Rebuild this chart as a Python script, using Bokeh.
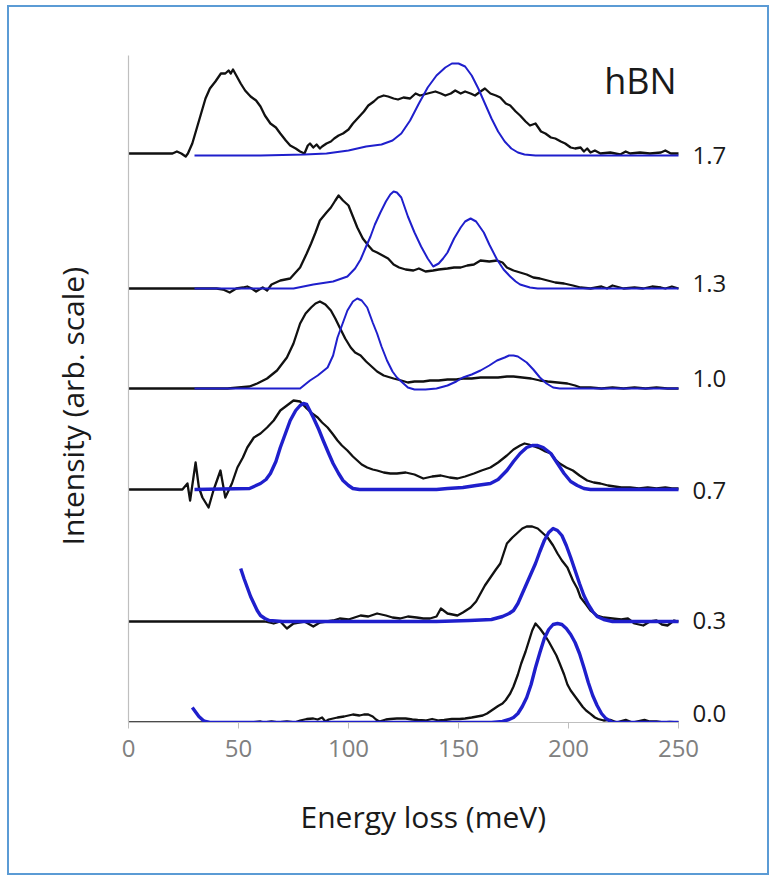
from bokeh.plotting import figure
from bokeh.models import Range1d, FixedTicker, Label, ColumnDataSource, Title
from bokeh.core.properties import value
from bokeh.embed import file_html
from bokeh.resources import INLINE

# ---------------- data (energy loss in meV, intensity in arbitrary units) ----------------
q_labels = ["1.7", "1.3", "1.0", "0.7", "0.3", "0.0"]
exp_offset = [569, 434, 334, 233, 101, 0]      # stacking offset of each measured spectrum
fit_offset = [567, 434, 334, 233, 101, 0]      # stacking offset of each calculated spectrum
label_y = [567, 439, 344, 232, 102, 9]

# q = 1.7
exp17_x = [0, 20, 22, 24, 26, 27, 29, 31, 33, 35,
           37, 39.5, 42, 44, 45.5, 46.5, 47.5, 49, 51, 53,
           55.5, 58, 60, 62, 64.5, 67, 69, 71.5, 73.5, 76,
           78, 80, 81.5, 82.5, 84, 85.5, 87, 88, 90, 92,
           93.5, 95.5, 97.5, 100, 102, 104.5, 107, 109, 111.5, 113.5,
           116, 118, 120.5, 122.5, 125, 128, 130.5, 132.5, 136, 139.5,
           142, 144, 146.5, 148.5, 151, 153, 155.5, 157.5, 160, 162,
           164.5, 167, 169, 171.5, 173.5, 176, 178, 180.5, 182.5, 185,
           187.5, 189.5, 192, 194, 196.5, 198.5, 201, 203, 205.5, 207,
           208.5, 210, 212, 214.5, 219, 223.5, 226, 228, 232.5, 237,
           242, 244, 246.5, 250]
exp17_y = [0, 0, 2, 0, -3, 0, 10, 25, 40, 55,
           65, 72, 80, 80, 83, 80, 84, 78, 70, 63,
           57, 53, 47, 38, 30, 26, 20, 13, 8, 5,
           2, 0, 8, 10, 6, 9, 5, 7, 10, 12,
           15, 18, 20, 24, 30, 36, 42, 48, 52, 56,
           58, 57, 55, 54, 56, 55, 60, 58, 60, 62,
           60, 58, 60, 63, 60, 62, 60, 58, 62, 65,
           60, 58, 56, 50, 48, 42, 38, 32, 28, 30,
           22, 20, 16, 15, 12, 10, 6, 5, 6, 2,
           5, 1, 3, 0, 1, -1, 2, 0, 1, 0,
           1, 3, 0, 0]
fit17_x = [30, 60, 80, 90, 100, 108, 115, 120, 124, 128,
           132, 136, 140, 144, 147, 150, 153, 156, 159, 162,
           165, 168, 171, 174, 177, 180, 185, 250]
fit17_y = [0, 0, 1, 2, 5, 9, 11, 15, 22, 35,
           52, 68, 80, 88, 92, 92, 89, 80, 67, 52,
           37, 24, 14, 7, 3, 1, 0, 0]

# q = 1.3
exp13_x = [0, 40, 43, 46, 49, 52, 54, 56, 58, 61,
           63, 65, 69, 73.5, 78, 81, 83, 85, 87, 90,
           92, 94, 95.5, 97.5, 100, 102, 104, 106.5, 109, 111,
           113, 115.5, 118, 120.5, 123, 126, 129.5, 132, 135, 138.5,
           141, 145, 148, 151, 154, 157, 160, 164, 167.5, 170,
           172, 175, 178, 181, 184, 187, 190.5, 194, 198, 202,
           205.5, 210, 215, 217.5, 220, 225, 230, 234, 238, 242,
           244, 247, 250]
exp13_y = [0, 0, -1, -4, 0, 1, 2, 0, -3, 1,
           -2, 4, 8, 10, 21, 35, 45, 56, 68, 76,
           81, 88, 93, 88, 83, 72, 61, 50, 43, 38,
           36, 33, 30, 24, 21, 19, 18, 20, 17, 18,
           19, 20, 21, 21, 23, 24, 28, 27, 28, 26,
           21, 18, 16, 14, 11, 10, 8, 6, 5, 3,
           1, 0, 2, 0, 3, 0, 1, 0, 2, 1,
           0, 2, 0]
fit13_x = [30, 75, 84, 93, 99.5, 103, 105.5, 108, 110, 112,
           114.5, 117, 119, 120.5, 122, 124, 127, 130, 133, 136,
           138.5, 141, 143, 145, 148, 151, 153, 155.5, 158, 161.5,
           164, 167.5, 170.5, 173.5, 176, 178, 182.5, 186, 250]
fit13_y = [0, 0, 4, 7, 12, 20, 29, 42, 52, 64,
           76, 87, 94, 97, 96, 91, 72, 56, 42, 30,
           22, 25, 30, 36, 50, 61, 67, 70, 67, 56,
           44, 29, 19, 12, 7, 4, 1, 0, 0]

# q = 1.0
exp10_x = [0, 45, 50, 55, 58.5, 63, 67.5, 72, 75, 78,
           80.5, 83, 85, 87, 89.5, 92, 94, 96, 98.5, 101,
           103, 105.5, 108, 110, 113, 116, 120.5, 124, 127, 130,
           134, 137, 141, 145, 149, 152, 156, 160, 164, 168,
           172, 175, 179, 183, 187, 190.5, 195, 199.5, 203, 205.5,
           210, 215, 220, 225, 230, 235, 240, 245, 250]
exp10_y = [0, 0, 1, 2, 5, 10, 18, 31, 45, 65,
           75, 81, 85, 87, 84, 78, 70, 61, 50, 41,
           36, 33, 27, 23, 17, 13, 10, 8, 6, 7,
           7, 8, 8, 9, 9, 10, 10, 11, 11, 11,
           12, 12, 11, 10, 8, 7, 6, 5, 3, 1,
           1, 0, 1, 0, 1, 0, 1, 0, 0]
fit10_x = [30, 78, 82.5, 86, 90.5, 93, 95, 97.5, 99.5, 102,
           104, 106, 108.5, 111, 113, 115, 117.5, 120, 122, 125,
           127, 130, 135, 140, 145, 149, 152, 156, 160, 164,
           167.5, 171, 173, 175, 177, 179, 181, 184, 187, 190,
           193, 196, 250]
fit10_y = [0, 0, 8, 13, 21, 33, 51, 66, 78, 87,
           90, 88, 81, 66, 55, 42, 28, 17, 11, 5,
           1, -1, -1, 0, 3, 7, 11, 14, 18, 23,
           28, 31, 33, 33, 32, 29, 26, 19, 11, 5,
           1, 0, 0]

# q = 0.7
exp07_x = [0, 24.5, 26.8, 28, 30.5, 32, 33.6, 36.4, 38.6, 41.8,
           44, 47, 49.5, 52, 54, 57, 60, 63, 66, 69,
           72, 75, 78, 81, 83.5, 86, 88, 90.5, 93, 95,
           97, 99.5, 102, 104, 106, 108.5, 111, 113, 116, 119,
           122, 126, 130, 134, 138, 142, 146, 149.5, 153, 157,
           160.5, 164.5, 168, 172, 175, 178, 180, 182, 184.5, 187,
           189.5, 192, 194, 196, 199, 202, 205, 208.5, 211.5, 214.5,
           218, 221, 224, 228, 232, 236, 240, 244, 247, 250]
exp07_y = [0, 0, 6, -11, 27, 2, -8, -18, -1, 19,
           -8, 6, 22, 32, 42, 52, 56, 62, 69, 79,
           84, 89, 88, 81, 76, 72, 67, 62, 55, 49,
           44, 39, 33, 29, 25, 22, 20, 19, 17, 16,
           16, 17, 15, 11, 13, 14, 12, 11, 13, 16,
           19, 22, 27, 34, 40, 44, 46, 45, 43, 41,
           38, 36, 30, 26, 22, 19, 14, 9, 7, 6,
           4, 3, 2, 2, 1, 2, 1, 2, 1, 1]
fit07_x = [30, 55, 60, 62.5, 64.5, 67, 69, 71.5, 73.5, 76,
           78, 79.5, 81, 84, 86.5, 88.5, 91, 93, 95.5, 97.5,
           100, 102, 105, 110, 140, 145, 152, 158, 164.5, 168,
           172, 175, 178, 181, 183.5, 186, 188.5, 192, 195, 198,
           201, 204, 207, 210, 250]
fit07_y = [0, 1, 6, 10, 16, 28, 42, 57, 69, 79,
           84, 86, 85, 72, 60, 49, 36, 26, 16, 9,
           4, 1, 0, 0, 0, 1, 2, 4, 6, 10,
           19, 28, 36, 42, 44, 44, 42, 36, 26, 16,
           8, 4, 1, 0, 0]

# q = 0.3
exp03_x = [0, 62, 66, 69, 72, 75, 80, 84, 87, 90,
           93, 96, 100, 105.5, 109, 113, 117, 120, 123.5, 127,
           131, 134, 137, 140, 142, 145, 149.5, 152, 155.5, 158,
           160, 162, 164.5, 167, 169, 170.5, 172, 174.5, 177, 179,
           181, 183.5, 186, 188, 190.5, 193, 195, 197, 199.5, 202,
           204, 205.5, 208, 210, 213, 216, 220, 224, 227, 230,
           234, 237, 240, 242.5, 245, 248, 250]
exp03_y = [0, 0, -2, 0, -7, -2, 0, -5, -1, 0,
           1, 3, 2, 6, 5, 8, 6, 4, 3, 5,
           4, 3, 3, 5, 13, 8, 6, 9, 14, 20,
           28, 36, 44, 52, 58, 68, 78, 84, 89, 93,
           95, 95, 93, 89, 84, 76, 68, 61, 54, 41,
           33, 24, 17, 11, 6, 4, 3, 2, 3, -2,
           -4, 0, 1, -3, -4, 1, 0]
fit03_x = [51, 52.5, 54, 55.5, 57, 58.5, 60, 62, 64, 70,
           140, 155, 165, 170, 173, 175, 177, 179, 181, 183,
           185, 187, 189, 191, 193, 195, 197, 199, 201, 203,
           205, 207, 209, 211, 213, 216, 220, 250]
fit03_y = [53, 43, 34, 25, 18, 11, 6, 3, 1, 0,
           0, 1, 2, 5, 8, 11, 18, 28, 38, 48,
           58, 70, 81, 89, 93, 91, 86, 76, 64, 51,
           38, 26, 17, 10, 5, 2, 0, 0]

# q = 0.0
exp00_x = [0, 56, 60, 62, 65, 68, 72, 75.5, 78, 81,
           84, 86, 88, 89.5, 91, 93, 95, 98, 102, 105,
           107, 109, 111, 112.5, 114, 117, 119, 122, 126, 129,
           131.5, 135, 138, 141, 143.5, 147, 150.5, 153, 156, 158.5,
           161, 163, 165, 168, 170, 171.5, 173.5, 175, 177, 178.5,
           180.5, 182, 183.5, 185, 187, 189, 191, 192.5, 194.5, 196,
           198, 199.5, 201, 203, 205, 206.5, 208, 210, 212, 213.5,
           216, 219, 222, 224, 226, 229, 231, 234.5, 237, 240,
           243, 246, 250]
exp00_y = [0, 0, 1, 0, 1, 0, 1, 0, 2, 3.5,
           4, 3, 5, 1, 3, 4, 5, 6, 8, 7,
           8, 8, 6, 3, 1, 3, 3.5, 4, 4, 3,
           2.5, 2, 3.5, 2, 2.5, 3.5, 3.5, 4, 5, 6,
           7, 9, 12, 16.5, 19, 22.5, 29, 36, 48, 59,
           71, 81.5, 92, 99, 94, 88, 81, 75, 67, 59,
           48, 38, 32, 26, 20, 15.5, 12, 8.7, 5, 3.5,
           2, 2.6, 0, 1.5, 2.6, 0, 1, 2.6, 1, 1,
           0, 0.5, 0]
fit00_x = [29, 30, 31, 32, 33, 34, 35, 37, 100, 165,
           170, 173, 175, 177, 179, 181, 183, 185, 187, 189,
           191, 193, 195, 197, 199, 201, 203, 205, 207, 209,
           211, 213, 215, 217, 220, 250]
fit00_y = [15, 12, 9, 6, 4, 2, 1, 0, 0, 0,
           1, 3, 5, 9, 16, 25, 38, 55, 70, 84,
           93, 98, 99, 98, 94, 88, 80, 69, 55, 40,
           27, 17, 9, 4, 0, 0]

x_ticks = [0, 50, 100, 150, 200, 250]

exp_x = [exp17_x, exp13_x, exp10_x, exp07_x, exp03_x, exp00_x]
exp_y = [exp17_y, exp13_y, exp10_y, exp07_y, exp03_y, exp00_y]
fit_x = [fit17_x, fit13_x, fit10_x, fit07_x, fit03_x, fit00_x]
fit_y = [fit17_y, fit13_y, fit10_y, fit07_y, fit03_y, fit00_y]

# ---------------- figure ----------------
FONT = "Open Sans"
BLACK = "#111111"
BLUE = "#1f1fcc"
TEXT = "#1a1a1a"

p = figure(width=762, height=870,
           x_range=Range1d(0, 287.27), y_range=Range1d(0, 672),
           output_backend="svg", toolbar_location=None,
           min_border_left=119, min_border_right=11,
           min_border_top=43, min_border_bottom=155)
p.styles = {"border": "2px solid #5b9bd5", "margin-left": "7px", "margin-top": "5px"}
p.outline_line_color = None
p.xgrid.visible = False
p.ygrid.visible = False
p.background_fill_color = "white"
p.border_fill_color = "white"

for i in range(len(q_labels)):
    ex = exp_x[i]
    ey = [v + exp_offset[i] for v in exp_y[i]]
    fx = fit_x[i]
    fy = [v + fit_offset[i] for v in fit_y[i]]
    p.line(ex, ey, line_color=BLACK, line_width=2.3, line_join="round")
    p.line(fx, fy, line_color=BLUE, line_width=2.0 if i < 3 else 3.4, line_join="round")

src = ColumnDataSource(dict(x=[256.4] * len(q_labels), y=label_y, t=q_labels))
p.text(x="x", y="y", text="t", source=src, text_font=value(FONT),
       text_font_size="24px", text_color=TEXT,
       text_align="left", text_baseline="middle")

p.add_layout(Label(x=232.7, y=642, text="hBN", text_font=FONT, text_font_size="36px",
                   text_color=TEXT, text_align="center", text_baseline="middle"))

# main x axis
xa = p.xaxis[0]
xa.ticker = FixedTicker(ticks=x_ticks)
xa.bounds = (0, 250)
xa.axis_line_color = "#bfbfbf"
xa.axis_line_width = 1.2
xa.major_tick_line_color = "#bfbfbf"
xa.major_tick_in = 0
xa.major_tick_out = 6
xa.minor_tick_line_color = None
xa.major_label_text_font = FONT
xa.major_label_text_font_size = "24px"
xa.major_label_text_color = "#808080"
xa.major_label_standoff = 11

# main y axis (plain line)
ya = p.yaxis[0]
ya.ticker = FixedTicker(ticks=[])
ya.bounds = (0, 667)
ya.axis_line_color = "#bfbfbf"
ya.axis_line_width = 1.2
ya.major_tick_line_color = None
ya.minor_tick_line_color = None
ya.major_tick_out = 0
ya.major_label_standoff = 0

# axis titles
p.add_layout(Title(text="Energy loss (meV)", align="left", offset=172, standoff=68,
                   text_font=FONT, text_font_size="30px", text_font_style="normal",
                   text_color=TEXT), "below")
p.add_layout(Title(text="Intensity (arb. scale)", align="left", offset=177, standoff=72,
                   text_font=FONT, text_font_size="30px", text_font_style="normal",
                   text_color=TEXT), "left")

open("out.html", "w").write(file_html(p, INLINE))
